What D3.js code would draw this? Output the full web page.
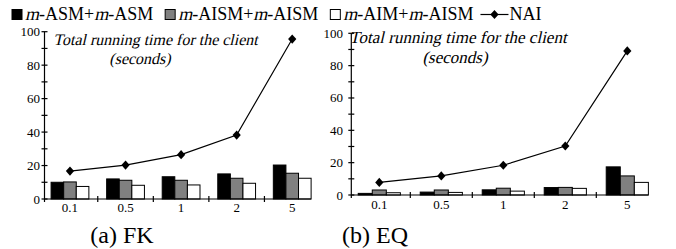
<!DOCTYPE html>
<html><head><meta charset="utf-8">
<script src="https://cdn.jsdelivr.net/npm/d3@7"></script>
<style>body{margin:0;background:#fff}svg{display:block}</style>
</head><body>
<script>
const categories = ["0.1","0.5","1","2","5"];
const seriesNames = ["m-ASM+m-ASM","m-AISM+m-AISM","m-AIM+m-AISM"];
const fkASM  = [10, 12, 13.3, 15, 20.3];
const fkAISM = [10.2, 11.2, 11.2, 12.4, 15.4];
const fkAIM  = [7.5, 8.2, 8.4, 9.4, 12.4];
const fkNAI  = [16.7, 20.3, 26.5, 38.2, 95.6];
const eqASM  = [1.0, 1.8, 3.2, 4.6, 17.4];
const eqAISM = [3.1, 3.1, 4.2, 4.7, 11.8];
const eqAIM  = [1.4, 1.6, 2.4, 4.1, 7.8];
const eqNAI  = [7.8, 11.8, 18.4, 30.3, 89.1];
const yTicks = [0,20,40,60,80,100];
const yMinor = [10,30,50,70,90];
const captions = ["(a) FK","(b) EQ"];
const titleLine1 = "Total running time for the client";
const titleLine2 = "(seconds)";
const lineName = "NAI";
const fills = ["#000","#808080","#fff"];

const FONT = "Liberation Serif";
const SKEW = -13;
const W=676,H=249;
const svg=d3.select("body").append("svg").attr("width",W).attr("height",H);

function addText(g,x,y,str,size,italic,anchor){
  const t=g.append("text").attr("font-family",FONT).attr("font-size",size).attr("fill","#000").text(str);
  if(anchor) t.attr("text-anchor",anchor);
  if(italic) t.attr("transform",`translate(${x},${y}) skewX(${SKEW})`);
  else t.attr("x",x).attr("y",y);
  let w=0; try{w=t.node().getComputedTextLength();}catch(e){}
  if(!w) w=str.length*size*0.5;
  return w;
}

const panels=[
 {series:[fkASM,fkAISM,fkAIM], nai:fkNAI, xr:[42.2,320], yr:[199,31.7], ax:44.5, lblX:40, xlY:212, cap:captions[0], capX:122,
  tX:53.3, tY:45, tFs:16, sX:140, sY:64.3},
 {series:[eqASM,eqAISM,eqAIM], nai:eqNAI, xr:[348.3,658.3], yr:[195,33.3], ax:351.3, lblX:343, xlY:208.5, cap:captions[1], capX:375,
  tX:349.3, tY:43.3, tFs:17, sX:455, sY:63.3}
];

panels.forEach(p=>{
  const g=svg.append("g");
  const x=d3.scaleBand().domain(categories).range(p.xr);
  const bw=x.bandwidth();
  const xs=d3.scaleBand().domain(seriesNames).range([bw*0.16,bw*0.84]);
  const y=d3.scaleLinear().domain([0,100]).range(p.yr);
  const xEnd = x(categories[4])+bw*0.84;
  p.series.forEach((vals,si)=>{
    g.selectAll(null).data(vals).enter().append("rect")
      .attr("x",(d,i)=>x(categories[i])+xs(seriesNames[si]))
      .attr("y",d=>y(d)).attr("width",xs.bandwidth()).attr("height",d=>y(0)-y(d))
      .attr("fill",fills[si]).attr("stroke","#000").attr("stroke-width",1);
  });
  g.append("line").attr("x1",p.ax).attr("x2",p.ax).attr("y1",y(100)).attr("y2",y(0)+3).attr("stroke","#000").attr("stroke-width",1.2);
  g.selectAll(null).data(yTicks.concat(yMinor)).enter().append("line")
    .attr("x1",p.ax-3).attr("x2",p.ax+3).attr("y1",d=>y(d)).attr("y2",d=>y(d)).attr("stroke","#000").attr("stroke-width",1.2);
  yTicks.forEach(t=>addText(g,p.lblX,y(t)+4.5,String(t),13,false,"end"));
  g.append("line").attr("x1",p.ax).attr("x2",xEnd).attr("y1",y(0)).attr("y2",y(0)).attr("stroke","#000").attr("stroke-width",1.2);
  g.selectAll(null).data(categories.slice(1)).enter().append("line")
    .attr("x1",d=>x(d)).attr("x2",d=>x(d)).attr("y1",y(0)-3).attr("y2",y(0)+3).attr("stroke","#000").attr("stroke-width",1.2);
  categories.forEach(c=>addText(g,x(c)+bw/2,p.xlY,c,13,false,"middle"));
  const line=d3.line().x((d,i)=>x(categories[i])+bw/2).y(d=>y(d));
  g.append("path").datum(p.nai).attr("d",line).attr("fill","none").attr("stroke","#000").attr("stroke-width",1.2);
  const sym=d3.symbol().type(d3.symbolSquare).size(34);
  g.selectAll(null).data(p.nai).enter().append("path").attr("d",sym)
    .attr("transform",(d,i)=>`translate(${x(categories[i])+bw/2},${y(d)}) scale(1,1.12) rotate(45)`).attr("fill","#000");
  addText(g,p.tX,p.tY,titleLine1,p.tFs,true);
  addText(g,p.sX,p.sY,titleLine2,p.tFs,true,"middle");
  addText(g,p.capX,243,p.cap,24,false,"middle");
});

// legend
const leg=svg.append("g");
const LFS=18, LBASE=20;
let cx=12;
seriesNames.forEach((name,i)=>{
  leg.append("rect").attr("x",cx).attr("y",9.5).attr("width",10).attr("height",10)
    .attr("fill",fills[i]).attr("stroke","#000").attr("stroke-width",1);
  cx+=13;
  const parts=name.split("+");
  parts.forEach((pp,j)=>{
    if(j>0) cx+=addText(leg,cx,LBASE,"+",LFS,false);
    cx+=addText(leg,cx,LBASE,"m",LFS,true);
    cx+=addText(leg,cx,LBASE,pp.slice(1),LFS,false);
  });
  cx+=12;
});
cx-=5;
leg.append("line").attr("x1",cx).attr("x2",cx+28).attr("y1",14.5).attr("y2",14.5).attr("stroke","#000").attr("stroke-width",1.2);
leg.append("path").attr("d",d3.symbol().type(d3.symbolSquare).size(34)).attr("transform",`translate(${cx+14},14.5) scale(1,1.12) rotate(45)`);
addText(leg,cx+29,LBASE,lineName,LFS,false);
</script>
</body></html>
